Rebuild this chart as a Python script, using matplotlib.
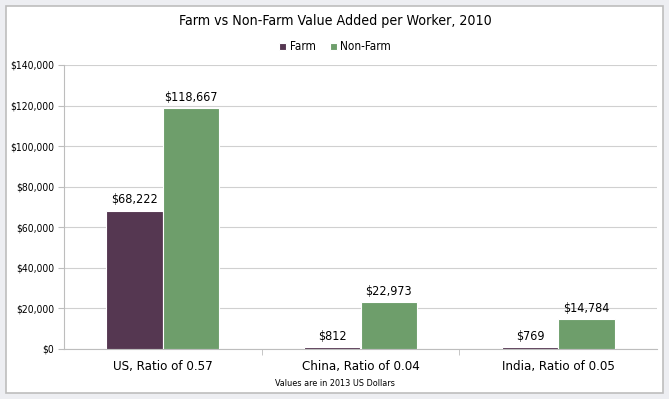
import matplotlib as mpl
mpl.use('Agg')
from matplotlib import pyplot as plt
from matplotlib.patches import Rectangle
import numpy as np

# chart data
categories = ["US, Ratio of 0.57", "China, Ratio of 0.04", "India, Ratio of 0.05"]
farm = [68222, 812, 769]
nonfarm = [118667, 22973, 14784]
series_names = ["Farm", "Non-Farm"]
yticks = [0, 20000, 40000, 60000, 80000, 100000, 120000, 140000]

colo = ['#553751', '#6E9E6B']
my_dpi = 100

plt.rcParams['font.family'] = ['DejaVu Sans']
plt.rcParams['font.stretch'] = 'condensed'

fig = plt.figure(figsize=(669/my_dpi, 399/my_dpi), dpi=my_dpi)
fig.patch.set_facecolor('#EDEEF2')

# white panel with grey frame
fig.patches.append(Rectangle((6/669, 6/399), 657/669, 387/399, transform=fig.transFigure,
                             facecolor='white', edgecolor='#BDBDBD', linewidth=1.2, zorder=-10))

ax = fig.add_axes([64/669, 1-349/399, 593/669, 284/399])
ax.set_facecolor('white')

x = np.arange(len(categories))
w = 0.285
b1 = ax.bar(x - w/2, farm, w, color=colo[0], edgecolor='white', linewidth=0.8, label=series_names[0], zorder=3)
b2 = ax.bar(x + w/2, nonfarm, w, color=colo[1], edgecolor='white', linewidth=0.8, label=series_names[1], zorder=3)

for bars, vals in [(b1, farm), (b2, nonfarm)]:
  for r, v in zip(bars, vals):
    ax.text(r.get_x() + r.get_width()/2, v + 2200, '${:,}'.format(v), ha='center', va='bottom',
            fontsize=9, color='black', zorder=4)

ax.set_xlim(-0.5, 2.5)
ax.set_ylim(0, 140000)
ax.set_yticks(yticks)
ax.set_yticklabels(['${:,}'.format(t) for t in yticks], fontsize=7.5)
ax.yaxis.grid(True, color='#D0D0D0', linewidth=0.8, zorder=0)
ax.set_axisbelow(True)

ax.set_xticks(x)
ax.set_xticklabels(categories, fontsize=9.5)
ax.tick_params(axis='x', length=0, pad=8)
ax.set_xticks([0.5, 1.5], minor=True)
ax.tick_params(axis='x', which='minor', length=4, color='#BDBDBD')
ax.tick_params(axis='y', length=4, color='#BDBDBD', pad=3)

for s in ['top', 'right']:
  ax.spines[s].set_visible(False)
for s in ['left', 'bottom']:
  ax.spines[s].set_color('#BDBDBD')
  ax.spines[s].set_linewidth(0.8)

fig.text(335/669, 1-21.5/399, 'Farm vs Non-Farm Value Added per Worker, 2010', ha='center', va='center', fontsize=10.2)
fig.legend(loc='center', bbox_to_anchor=(335/669, 1-47/399), ncol=2, frameon=False, fontsize=8.5,
           handlelength=0.6, handleheight=0.6, handletextpad=0.3, columnspacing=1.2)
fig.text(335/669, 1-383/399, 'Values are in 2013 US Dollars', ha='center', va='center', fontsize=6.5)

plt.savefig('out.png', dpi=my_dpi, facecolor=fig.get_facecolor())
